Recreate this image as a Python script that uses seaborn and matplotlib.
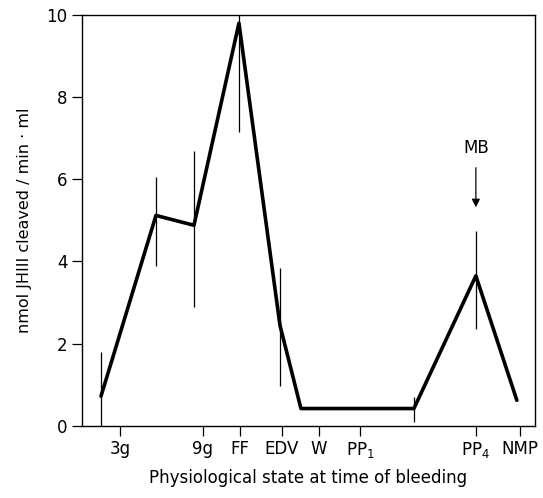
import numpy as np
import pandas as pd
import matplotlib
matplotlib.use("Agg")
import matplotlib.pyplot as plt
import seaborn as sns

# stage positions along the x axis (arbitrary time units)
tick_pos = [3.8, 12.1, 15.8, 20.0, 23.7, 27.8, 39.4, 43.8]
tick_labels = ["3g", "9g", "FF", "EDV", "W", r"PP$_1$", r"PP$_4$", "NMP"]

# measured activity
x_pts = [1.9, 7.4, 11.2, 15.7, 19.8, 21.9, 33.2, 39.4, 43.5]
y_pts = [0.72, 5.12, 4.88, 9.8, 2.45, 0.42, 0.42, 3.65, 0.62]
err_lo = [0.0, 3.9, 2.9, 7.15, 0.97, None, 0.1, 2.35, None]
err_hi = [1.8, 6.05, 6.7, 10.0, 3.85, None, 0.7, 4.75, None]

df = pd.DataFrame({"x": x_pts, "y": y_pts})

sns.set_style("ticks")
plt.rcParams["font.family"] = ["DejaVu Sans"]
plt.rcParams["text.color"] = "black"
plt.rcParams["axes.labelcolor"] = "black"

fig = plt.figure(figsize=(5.43, 4.98), dpi=100)
ax = fig.add_axes([0.151, 0.145, 0.834, 0.825])

sns.lineplot(data=df, x="x", y="y", color="black", linewidth=2.6, ax=ax,
             sort=False)

for xi, lo, hi in zip(x_pts, err_lo, err_hi):
    if lo is None:
        continue
    ax.vlines(xi, lo, hi, color="black", linewidth=0.9)

# MB arrow above PP4
ax.annotate("", xy=(39.4, 5.25), xytext=(39.4, 6.35),
            arrowprops=dict(arrowstyle="-|>", color="black", lw=0.9,
                            mutation_scale=12))
ax.text(39.4, 6.75, "MB", ha="center", va="center", fontsize=12,
        color="black")

ax.set_xlim(0, 45.3)
ax.set_ylim(0, 10)
ax.set_xticks(tick_pos)
ax.set_xticklabels(tick_labels, fontsize=12)
ax.set_yticks([0, 2, 4, 6, 8, 10])
ax.set_yticklabels(["0", "2", "4", "6", "8", "10"], fontsize=12)
ax.tick_params(axis="both", direction="out", length=7, width=0.9,
               color="black", labelcolor="black")
ax.set_xlabel("Physiological state at time of bleeding", fontsize=12,
              labelpad=6, color="black")
ax.set_ylabel("nmol JHIII cleaved / min · ml", fontsize=11.5, labelpad=10,
              color="black")

for s in ax.spines.values():
    s.set_color("black")
    s.set_linewidth(1.0)

fig.savefig("out.png", dpi=100)
